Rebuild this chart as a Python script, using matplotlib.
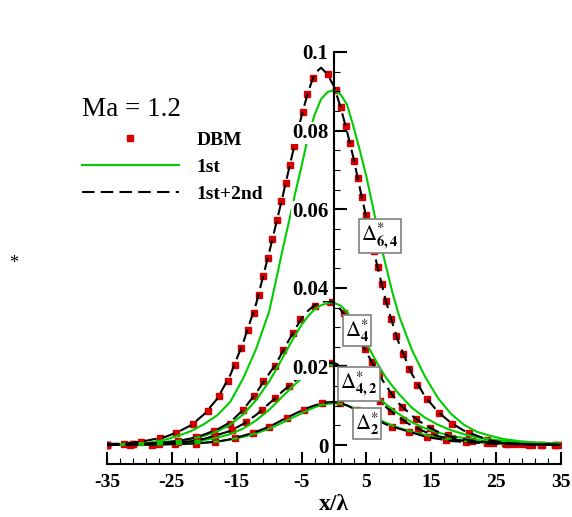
import matplotlib
matplotlib.use('Agg')
import matplotlib.pyplot as plt
from matplotlib.ticker import MultipleLocator, FuncFormatter

plt.rcParams['font.family'] = ['Liberation Serif', 'DejaVu Serif']
plt.rcParams['mathtext.fontset'] = 'stix'
plt.rcParams['axes.unicode_minus'] = False

# --- data ---
# common x grid for the two model curves
X_LINE = [-35, -32, -29, -26, -24, -22, -20, -18, -16, -14, -12, -10, -9, -8, -7, -6, -5, -4, -3, -2, -1,
          0, 1, 2, 3, 4, 5, 6, 7, 8, 9, 10, 12, 14, 16, 18, 20, 22, 24, 26, 29, 32, 35]

# Delta*_{6,4}
d64_x = [-35.0, -32.4, -29.8, -26.9, -24.3, -21.8, -19.5, -17.7, -16.4, -15.3, -14.3, -13.3, -12.4, -11.6,
         -10.9, -10.2, -9.5, -8.8, -8.1, -7.45, -6.8, -6.15, -5.5, -4.85, -4.1, -3.2, -1.0, 0.3, 1.0, 1.8,
         2.45, 3.1, 3.65, 4.25, 4.9, 5.5, 6.1, 6.7, 7.35, 8.0, 8.8, 9.6, 10.6, 11.6, 12.85, 14.3, 16.1,
         18.2, 20.8, 23.5, 26.4, 29.1, 31.9, 34.7]
d64_dbm = [0.0000, 0.0002, 0.0009, 0.0018, 0.0032, 0.0053, 0.0086, 0.0124, 0.0163, 0.0204, 0.0247, 0.0292,
           0.0337, 0.0383, 0.0429, 0.0476, 0.0524, 0.0572, 0.0620, 0.0667, 0.0713, 0.0760, 0.0805, 0.0848,
           0.0893, 0.0935, 0.0943, 0.0903, 0.0860, 0.0812, 0.0768, 0.0723, 0.0679, 0.0632, 0.0585, 0.0539,
           0.0494, 0.0452, 0.0410, 0.0366, 0.0321, 0.0277, 0.0233, 0.0193, 0.0154, 0.0117, 0.0083, 0.0054,
           0.0030, 0.0014, 0.0006, 0.0002, 0.0000, 0.0000]
d64_1st = [0.0001, 0.0002, 0.0004, 0.0014, 0.0024, 0.0036, 0.0054, 0.0076, 0.0110, 0.0170, 0.0245, 0.0340,
           0.0415, 0.0492, 0.0565, 0.0640, 0.0710, 0.0785, 0.0840, 0.0880, 0.0898, 0.0903, 0.0892, 0.0866,
           0.0810, 0.0748, 0.0682, 0.0605, 0.0525, 0.0455, 0.0388, 0.0330, 0.0242, 0.0175, 0.0120, 0.0080,
           0.0052, 0.0034, 0.0024, 0.0016, 0.0009, 0.0006, 0.0004]
d64_2nd = [0.0003, 0.0004, 0.0011, 0.0021, 0.0034, 0.0051, 0.0079, 0.0118, 0.0178, 0.0261, 0.0360, 0.0490,
           0.0558, 0.0627, 0.0699, 0.0770, 0.0838, 0.0898, 0.0945, 0.0960, 0.0943, 0.0912, 0.0860, 0.0798,
           0.0730, 0.0652, 0.0577, 0.0502, 0.0433, 0.0366, 0.0310, 0.0259, 0.0181, 0.0124, 0.0085, 0.0057,
           0.0037, 0.0024, 0.0012, 0.0007, 0.0003, 0.0002, 0.0002]

# Delta*_4
d4_x = [-35, -31, -27, -24, -21.3, -18.5, -16.0, -14.1, -12.4, -10.9, -9.1, -7.8, -6.4, -5.2, -2.9, -0.6,
        1.5, 3.1, 4.7, 5.8, 6.9, 8.8, 10.4, 12.6, 14.8, 17.5, 20.5, 23.5, 26.5, 30, 34]
d4_dbm = [0.0000, 0.0002, 0.0006, 0.0010, 0.0020, 0.0036, 0.0055, 0.0089, 0.0125, 0.0164, 0.0201, 0.0242,
          0.0284, 0.0320, 0.0354, 0.0365, 0.0335, 0.0292, 0.0245, 0.0212, 0.0180, 0.0130, 0.0098, 0.0066,
          0.0043, 0.0025, 0.0014, 0.0008, 0.0004, 0.0001, 0.0000]
d4_1st = [0.0002, 0.0003, 0.0005, 0.0008, 0.0011, 0.0016, 0.0024, 0.0035, 0.0052, 0.0078, 0.0115, 0.0162,
          0.0190, 0.0220, 0.0250, 0.0279, 0.0306, 0.0328, 0.0345, 0.0356, 0.0361, 0.0362, 0.0355, 0.0339,
          0.0316, 0.0289, 0.0259, 0.0228, 0.0198, 0.0172, 0.0150, 0.0130, 0.0095, 0.0070, 0.0052, 0.0038,
          0.0028, 0.0020, 0.0015, 0.0011, 0.0007, 0.0005, 0.0003]
d4_2nd = [0.0001, 0.0002, 0.0004, 0.0007, 0.0011, 0.0017, 0.0027, 0.0040, 0.0058, 0.0090, 0.0133, 0.0182,
          0.0205, 0.0236, 0.0266, 0.0295, 0.0322, 0.0342, 0.0356, 0.0364, 0.0367, 0.0362, 0.0345, 0.0322,
          0.0295, 0.0265, 0.0236, 0.0206, 0.0177, 0.0152, 0.0127, 0.0106, 0.0075, 0.0051, 0.0034, 0.0022,
          0.0015, 0.0010, 0.0007, 0.0005, 0.0003, 0.0002, 0.0001]

# Delta*_{4,2}
d42_x = [-35, -31, -27, -24, -21, -18.3, -15.7, -13.5, -11.1, -9.1, -6.9, -4.9, -2.8, -0.6, 1.4, 3.3, 5.2,
         7.1, 8.8, 10.6, 12.9, 15.4, 18.2, 21.2, 24.5, 28, 32]
d42_dbm = [0.0000, 0.0002, 0.0004, 0.0007, 0.0013, 0.0024, 0.0038, 0.0059, 0.0089, 0.0119, 0.0150, 0.0178,
           0.0199, 0.0209, 0.0196, 0.0175, 0.0143, 0.0113, 0.0086, 0.0064, 0.0042, 0.0026, 0.0018, 0.0010,
           0.0005, 0.0002, 0.0000]
d42_1st = [0.0001, 0.0002, 0.0003, 0.0004, 0.0006, 0.0009, 0.0013, 0.0019, 0.0028, 0.0042, 0.0063, 0.0090,
           0.0106, 0.0123, 0.0139, 0.0155, 0.0170, 0.0183, 0.0193, 0.0200, 0.0203, 0.0203, 0.0199, 0.0190,
           0.0178, 0.0164, 0.0149, 0.0133, 0.0118, 0.0104, 0.0091, 0.0079, 0.0058, 0.0043, 0.0032, 0.0024,
           0.0018, 0.0013, 0.0010, 0.0008, 0.0005, 0.0003, 0.0002]
d42_2nd = [0.0001, 0.0002, 0.0003, 0.0005, 0.0007, 0.0010, 0.0016, 0.0026, 0.0036, 0.0054, 0.0077, 0.0106,
           0.0120, 0.0136, 0.0150, 0.0164, 0.0177, 0.0189, 0.0199, 0.0205, 0.0209, 0.0209, 0.0202, 0.0190,
           0.0176, 0.0161, 0.0145, 0.0128, 0.0113, 0.0097, 0.0083, 0.0070, 0.0049, 0.0034, 0.0023, 0.0016,
           0.0011, 0.0008, 0.0006, 0.0004, 0.0002, 0.0001, 0.0001]

# Delta*_2
d2_x = [-35, -31.5, -28, -24.5, -21.3, -18.3, -15.3, -12.5, -10.0, -7.3, -4.7, -1.9, 0.9, 3.5, 6.2, 8.9,
        11.5, 14.3, 17.3, 20.4, 23.6, 27, 30.5, 34]
d2_dbm = [0.0000, 0.0001, 0.0001, 0.0002, 0.0004, 0.0008, 0.0017, 0.0031, 0.0047, 0.0070, 0.0089, 0.0106,
          0.0106, 0.0090, 0.0068, 0.0047, 0.0034, 0.0021, 0.0013, 0.0008, 0.0005, 0.0003, 0.0001, 0.0000]
d2_1st = [0.0000, 0.0001, 0.0001, 0.0002, 0.0003, 0.0004, 0.0006, 0.0009, 0.0014, 0.0021, 0.0030, 0.0042,
          0.0049, 0.0057, 0.0065, 0.0073, 0.0081, 0.0089, 0.0096, 0.0102, 0.0105, 0.0106, 0.0105, 0.0101,
          0.0095, 0.0088, 0.0080, 0.0072, 0.0064, 0.0057, 0.0050, 0.0044, 0.0034, 0.0026, 0.0020, 0.0015,
          0.0011, 0.0008, 0.0006, 0.0004, 0.0003, 0.0002, 0.0001]
d2_2nd = [0.0000, 0.0001, 0.0001, 0.0002, 0.0003, 0.0004, 0.0006, 0.0009, 0.0015, 0.0024, 0.0034, 0.0047,
          0.0055, 0.0064, 0.0072, 0.0080, 0.0088, 0.0095, 0.0101, 0.0106, 0.0109, 0.0110, 0.0107, 0.0101,
          0.0093, 0.0084, 0.0076, 0.0069, 0.0061, 0.0053, 0.0047, 0.0042, 0.0032, 0.0022, 0.0016, 0.0011,
          0.0008, 0.0006, 0.0004, 0.0003, 0.0002, 0.0001, 0.0000]

SERIES = [
    (d64_x, d64_dbm, d64_1st, d64_2nd, r'$\Delta^{*}_{\mathbf{6,4}}$', (7.05, 0.0532)),
    (d4_x, d4_dbm, d4_1st, d4_2nd, r'$\Delta^{*}_{\mathbf{4}}$', (3.55, 0.0291)),
    (d42_x, d42_dbm, d42_1st, d42_2nd, r'$\Delta^{*}_{\mathbf{4,2}}$', (3.85, 0.0155)),
    (d2_x, d2_dbm, d2_1st, d2_2nd, r'$\Delta^{*}_{\mathbf{2}}$', (5.05, 0.0056)),
]

RED = '#d40000'
GREEN = '#00cc00'

fig = plt.figure(figsize=(5.72, 5.17), dpi=100)
ax = fig.add_axes([0.187, 0.1025, 0.794, 0.797])

for i, (xd, dbm, first, second, label, pos) in enumerate(SERIES):
    ax.plot(xd, dbm, ls='none', marker='s', ms=5, color=RED, mec=RED, zorder=2,
            label='DBM' if i == 0 else None)
    ax.plot(X_LINE, first, color=GREEN, lw=1.5, zorder=3, label='1st' if i == 0 else None)
    ax.plot(X_LINE, second, color='black', lw=1.5, dashes=(6, 3), zorder=4,
            label='1st+2nd' if i == 0 else None)
    ax.text(pos[0], pos[1], label, fontsize=15, ha='center', va='center', zorder=6,
            bbox=dict(boxstyle='square,pad=0.1', facecolor='white', edgecolor='#808080', lw=1.2))

ax.set_xlim(-35, 35)
ax.set_ylim(-0.0048, 0.1)

for side in ('top', 'right'):
    ax.spines[side].set_visible(False)
ax.spines['left'].set_position(('data', 0))
ax.spines['left'].set_linewidth(1.5)
ax.spines['bottom'].set_linewidth(1.5)
ax.yaxis.set_zorder(5)
ax.spines['left'].set_zorder(5)

ax.xaxis.set_major_locator(MultipleLocator(10, offset=5))
ax.xaxis.set_minor_locator(MultipleLocator(2, offset=1))
ax.yaxis.set_major_locator(MultipleLocator(0.02))
ax.yaxis.set_minor_locator(MultipleLocator(0.005))
ax.yaxis.set_major_formatter(FuncFormatter(lambda v, p: '%g' % round(v, 4)))

ax.tick_params(axis='both', which='both', direction='in')
ax.tick_params(axis='both', which='major', length=9, width=1.5)
ax.tick_params(axis='both', which='minor', length=4.5, width=0.8)
ax.tick_params(axis='x', which='major', labelsize=14, pad=7)
ax.tick_params(axis='y', which='major', labelsize=15, pad=4)

ax.set_xlabel(r'x/λ', fontsize=17, fontweight='bold', labelpad=2)
ax.set_ylabel('*', fontsize=13, rotation=0)
ax.yaxis.set_label_coords(-0.205, 0.466)

fig.text(0.143, 1 - 116 / 517, 'Ma = 1.2', fontsize=19.5, va='baseline', ha='left')

ax.legend(loc='upper left', bbox_to_anchor=(0.143, 0.746), bbox_transform=fig.transFigure,
          frameon=False, numpoints=1, handlelength=5, handletextpad=0.9, labelspacing=0.48,
          borderpad=0, borderaxespad=0, prop=dict(family='Liberation Serif', weight='bold', size=14))

fig.canvas.draw()
for t in ax.xaxis.get_major_ticks():
    t.label1.set_fontweight('bold')
for t in ax.yaxis.get_major_ticks():
    t.label1.set_fontweight('bold')
    t.label1.set_bbox(dict(facecolor='white', edgecolor='none', pad=0.5))

fig.savefig('out.png', dpi=100)
